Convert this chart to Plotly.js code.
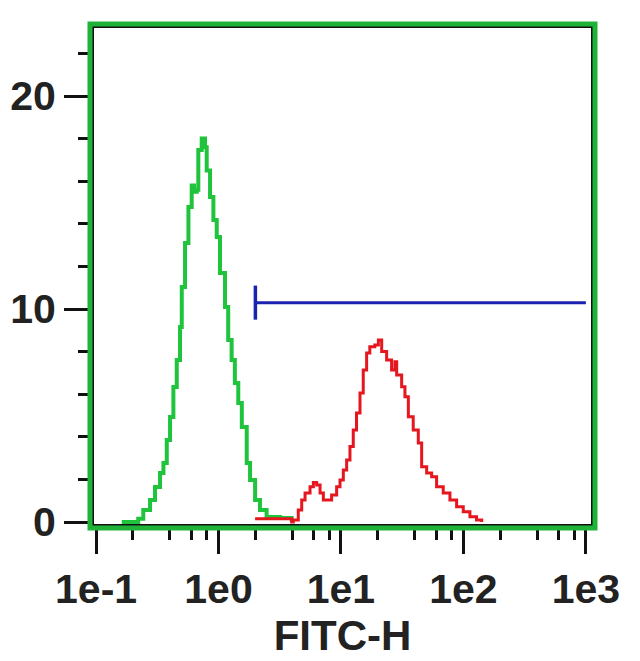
<!DOCTYPE html>
<html>
<head>
<meta charset="utf-8">
<script src="https://cdn.plot.ly/plotly-3.0.1.min.js"></script>
<style>html,body{margin:0;padding:0;background:#fff;}#chart{width:640px;height:661px;}</style>
</head>
<body>
<div id="chart"></div>
<script>
// Control (green) histogram
const controlX = [0.162,0.221,0.243,0.276,0.303,0.333,0.355,0.378,0.402,0.428,0.456,0.485,0.501,0.533,0.568,0.604,0.631,0.664,0.684,0.729,0.776,0.801,0.853,0.908,0.967,1.028,1.13,1.20,1.28,1.36,1.45,1.55,1.70,1.81,1.99,2.18,2.47,3.18,3.96];
const controlY = [0,0.15,0.56,1.03,1.64,2.30,2.77,3.85,4.93,6.34,7.61,9.15,11.03,13.10,14.79,15.8,15.5,15.6,17.46,18.0,17.6,16.5,15.26,14.18,13.38,11.69,10.09,8.54,7.61,6.53,5.59,4.46,2.77,1.97,1.03,0.56,0.23,0.19,0];
// Sample (red) histogram
const sampleX = [1.99,2.98,3.96,4.08,4.48,4.78,5.09,5.59,5.95,6.33,6.75,7.18,7.73,8.39,9.22,9.82,10.45,11.13,11.84,12.6,13.4,14.3,15.2,16.2,17.2,18.9,20.2,21.5,23.6,25.9,27.6,28.5,31.3,33.3,35.5,38.9,42.8,45.6,50.1,55.0,60.4,68.4,77.6,88.0,99.7,113,128,141];
const sampleY = [0.15,0.15,0,0.09,0.56,1.03,1.36,1.66,1.85,1.74,1.36,1.03,1.03,1.27,1.66,1.97,2.44,2.91,3.54,4.32,5.12,6.06,7.14,7.93,8.23,8.31,8.54,8.0,7.61,7.14,7.53,6.90,6.35,5.88,4.94,4.32,3.71,2.60,2.30,2.13,1.66,1.36,1.03,0.72,0.48,0.25,0.09,0];
// Gate marker
const gateX = [2, 1000];
const gateY = 10.3;
const gateBar = [9.5, 11.1];
const xTickVals = [0.1, 1, 10, 100, 1000];
const xTickText = ['1e-1', '1e0', '1e1', '1e2', '1e3'];
const xMinorVals = [0.2,0.4,0.6,0.8,2,4,6,8,20,40,60,80,200,400,600,800];
const yTickVals = [0, 10, 20];
const yTickText = ['0', '10', '20'];

const tickFont = {family: '"Liberation Sans", Arial, sans-serif', size: 41, color: '#222', weight: 'bold'};
const titleFont = {family: '"Liberation Sans", Arial, sans-serif', size: 42, color: '#222', weight: 'bold'};

const traces = [
  {x: controlX, y: controlY, mode: 'lines', line: {color: '#1fc43c', width: 4, shape: 'hv'}, hoverinfo: 'skip'},
  {x: sampleX, y: sampleY, mode: 'lines', line: {color: '#e5161e', width: 3, shape: 'hv'}, hoverinfo: 'skip'},
  {x: gateX, y: [gateY, gateY], mode: 'lines', line: {color: '#1b22b0', width: 3}, hoverinfo: 'skip'},
  {x: [gateX[0], gateX[0]], y: gateBar, mode: 'lines', line: {color: '#1b22b0', width: 3.5}, hoverinfo: 'skip'}
];

const layout = {
  width: 640, height: 661,
  margin: {l: 93, r: 48, t: 27, b: 136},
  paper_bgcolor: '#fff', plot_bgcolor: '#fff',
  showlegend: false,
  xaxis: {
    type: 'log', range: [-1.025, 3.05],
    tickmode: 'array', tickvals: xTickVals, ticktext: xTickText,
    ticks: 'outside', ticklen: 28, tickwidth: 3, tickcolor: '#111',
    minor: {tickmode: 'array', tickvals: xMinorVals, ticks: 'outside', ticklen: 14, tickwidth: 3, tickcolor: '#111'},
    showgrid: false, zeroline: false, showline: false,
    tickfont: tickFont,
    title: {text: 'FITC-H', font: titleFont, standoff: 8}
  },
  yaxis: {
    range: [-0.14, 23.24],
    tickmode: 'array', tickvals: yTickVals, ticktext: yTickText,
    ticks: 'outside', ticklen: 28, tickwidth: 3, tickcolor: '#111',
    minor: {dtick: 2, ticks: 'outside', ticklen: 14, tickwidth: 3, tickcolor: '#111'},
    showgrid: false, zeroline: false, showline: false,
    tickfont: tickFont
  },
  shapes: [
    {type: 'rect', xref: 'paper', yref: 'paper', x0: 0, x1: 1, y0: 0, y1: 1, line: {color: '#111', width: 2}, layer: 'above'},
    {type: 'rect', xref: 'paper', yref: 'paper', x0: -0.006, x1: 1.006, y0: -0.006, y1: 1.006, line: {color: '#1fb33a', width: 5}, layer: 'above'}
  ]
};

Plotly.newPlot('chart', traces, layout, {displayModeBar: false, staticPlot: true});
</script>
</body>
</html>
